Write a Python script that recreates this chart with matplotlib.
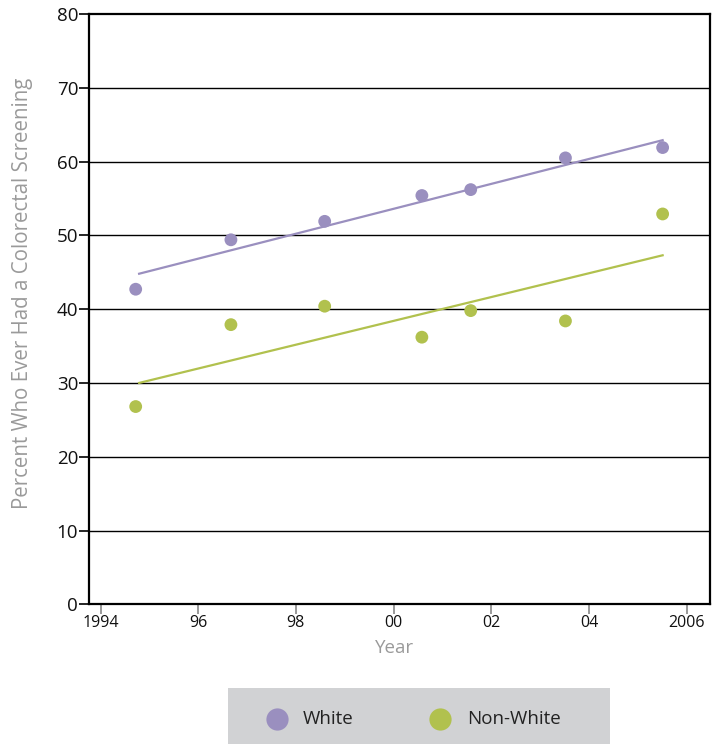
import matplotlib
matplotlib.use("Agg")
import matplotlib.pyplot as plt
from matplotlib.lines import Line2D
from matplotlib.patches import Rectangle

years = [1994.72, 1996.67, 1998.59, 2000.58, 2001.58, 2003.52, 2005.51]
white = [42.7, 49.4, 51.9, 55.4, 56.2, 60.5, 61.9]
nonwhite = [26.8, 37.9, 40.4, 36.2, 39.8, 38.4, 52.9]
trend_x = [1994.79, 2005.51]
white_trend = [44.8, 62.9]
nonwhite_trend = [30.0, 47.3]
xticks = [1994, 1996, 1998, 2000, 2002, 2004, 2006]
xtick_labels = ["1994", "96", "98", "00", "02", "04", "2006"]
yticks = [0, 10, 20, 30, 40, 50, 60, 70, 80]

purple = "#9a8fbf"
green = "#b1c14e"
gray_text = "#9a9a9a"

plt.rcParams['font.family'] = ['Open Sans', 'DejaVu Sans']

fig = plt.figure(figsize=(7.17, 7.44), dpi=100)
W, H = 717, 744
ax = fig.add_axes([89.3 / W, 1 - 604.3 / H, (710 - 89.3) / W, (604.3 - 14) / H])

ax.set_xlim(1993.77, 2006.48)
ax.set_ylim(0, 80)

for y in yticks[1:-1]:
    ax.axhline(y, color="black", lw=1.0, zorder=1)

ax.plot(trend_x, white_trend, color=purple, lw=1.6, zorder=2)
ax.plot(trend_x, nonwhite_trend, color=green, lw=1.6, zorder=2)
ax.scatter(years, white, s=85, color=purple, edgecolors="none", zorder=3)
ax.scatter(years, nonwhite, s=85, color=green, edgecolors="none", zorder=3)

for sp in ax.spines.values():
    sp.set_color("black")
    sp.set_linewidth(1.6)

ax.set_yticks(yticks)
ax.set_yticklabels([str(v) for v in yticks], fontsize=13.5, color="#111111")
ax.set_xticks(xticks)
ax.set_xticklabels(xtick_labels, fontsize=11.5, color="#111111")
ax.tick_params(axis="y", length=7, width=1.2, color="black", pad=1)
ax.tick_params(axis="x", length=7, width=1.2, color="#888888", pad=1)

ax.set_xlabel("Year", fontsize=13.5, color=gray_text, va="center")
ax.xaxis.set_label_coords((395 - 89.3) / 620.7, -(648 - 604.3) / 590.3)
ax.set_ylabel("Percent Who Ever Had a Colorectal Screening", fontsize=14.8,
              color=gray_text, va="center")
ax.yaxis.set_label_coords((23 - 89.3) / 620.7, (604.3 - 293) / 590.3)

# legend box
fig.patches.append(Rectangle((228 / W, 0), (610 - 228) / W, (744 - 688) / H,
                             transform=fig.transFigure, facecolor="#d1d2d4",
                             edgecolor="none", zorder=0))
fig.add_artist(Line2D([277 / W], [1 - 719 / H], marker="o", markersize=16,
                      color=purple, markeredgecolor="none", transform=fig.transFigure))
fig.text(303 / W, 1 - 719 / H, "White", fontsize=13.5, va="center", ha="left", color="#222222")
fig.add_artist(Line2D([440 / W], [1 - 719 / H], marker="o", markersize=16,
                      color=green, markeredgecolor="none", transform=fig.transFigure))
fig.text(467 / W, 1 - 719 / H, "Non-White", fontsize=13.5, va="center", ha="left", color="#222222")

fig.savefig("out.png", dpi=100)
